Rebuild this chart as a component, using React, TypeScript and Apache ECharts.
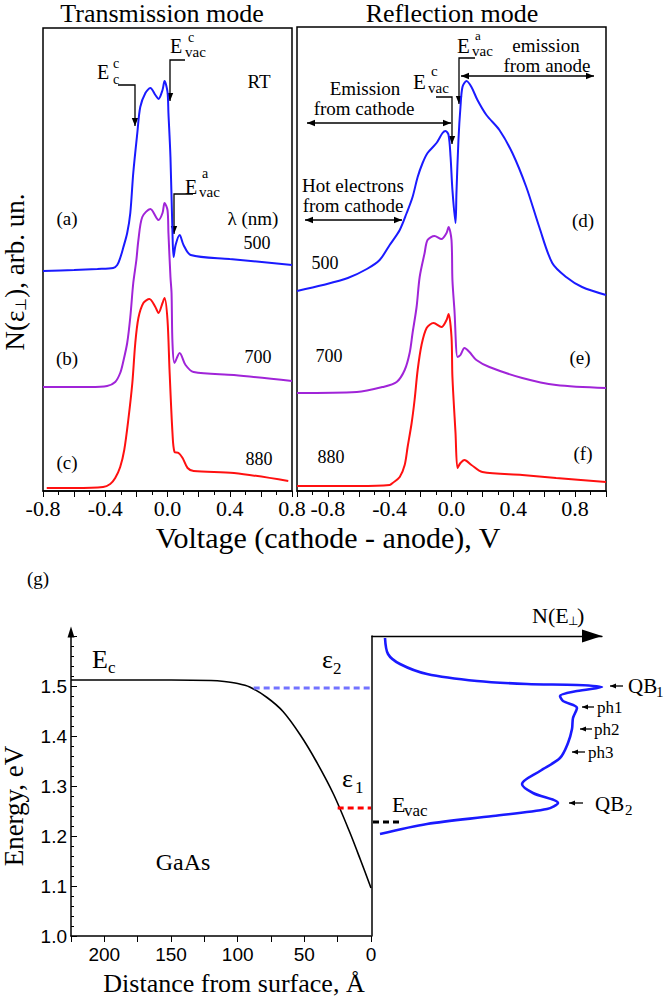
import { useEffect, useRef } from 'react';
import * as echarts from 'echarts';

const SERIF = '"Liberation Serif", "Times New Roman", serif';
const SANS = '"Liberation Sans", Arial, sans-serif';

const BLUE = '#1a1aff';
const PURPLE = '#a024d8';
const RED = '#ff1010';

// Transmission mode: [voltage, N] in arbitrary units (curves keep their vertical offsets)
const transA = [
  [-0.8, 220], [-0.6, 221], [-0.45, 222], [-0.349, 223], [-0.323, 226], [-0.304, 233], [-0.285, 243],
  [-0.259, 258], [-0.239, 278], [-0.22, 318], [-0.194, 358], [-0.175, 384], [-0.142, 398], [-0.11, 403],
  [-0.078, 396], [-0.058, 392], [-0.032, 401], [-0.019, 410], [0.0, 399], [0.006, 378], [0.019, 334],
  [0.032, 258], [0.039, 234], [0.052, 246], [0.078, 256], [0.103, 246], [0.149, 236], [0.4, 232], [0.8, 226],
];
const transB = [
  [-0.8, 104], [-0.5, 104], [-0.388, 105], [-0.336, 109], [-0.304, 118], [-0.285, 129], [-0.259, 148],
  [-0.239, 174], [-0.22, 208], [-0.2, 231], [-0.187, 251], [-0.162, 274], [-0.11, 282], [-0.058, 271],
  [-0.032, 278], [-0.019, 288], [0.0, 281], [0.006, 258], [0.019, 214], [0.026, 198], [0.032, 148],
  [0.045, 128], [0.078, 138], [0.116, 126], [0.168, 119], [0.427, 116], [0.8, 110],
];
const transC = [
  [-0.776, 3], [-0.6, 3], [-0.414, 4], [-0.368, 7], [-0.336, 13], [-0.304, 24], [-0.278, 41], [-0.252, 71],
  [-0.226, 108], [-0.207, 148], [-0.187, 173], [-0.155, 188], [-0.116, 192], [-0.078, 184], [-0.058, 178],
  [-0.032, 188], [-0.019, 193], [0.0, 171], [0.013, 121], [0.032, 58], [0.045, 39], [0.071, 38],
  [0.097, 33], [0.129, 23], [0.168, 20], [0.427, 18], [0.776, 10],
];

// Reflection mode
const reflD = [
  [-1.0, 200], [-0.832, 206], [-0.671, 213], [-0.548, 222], [-0.465, 231], [-0.4, 246], [-0.335, 261],
  [-0.29, 278], [-0.252, 294], [-0.219, 314], [-0.187, 328], [-0.155, 338], [-0.097, 348], [-0.058, 358],
  [-0.039, 360], [-0.019, 356], [-0.006, 334], [0.006, 301], [0.026, 268], [0.032, 298], [0.045, 351],
  [0.058, 384], [0.071, 404], [0.097, 410], [0.129, 404], [0.168, 391], [0.226, 376], [0.31, 361],
  [0.394, 338], [0.484, 304], [0.568, 264], [0.652, 228], [0.742, 214], [0.845, 204], [1.0, 196],
];
const reflE = [
  [-1.0, 98], [-0.613, 99], [-0.445, 104], [-0.355, 109], [-0.303, 121], [-0.271, 138], [-0.252, 158],
  [-0.226, 184], [-0.206, 214], [-0.174, 238], [-0.155, 251], [-0.11, 255], [-0.065, 252], [-0.032, 258],
  [-0.019, 264], [0.0, 251], [0.006, 211], [0.019, 181], [0.039, 134], [0.058, 136], [0.084, 143],
  [0.116, 139], [0.161, 131], [0.245, 124], [0.458, 113], [0.677, 106], [1.0, 103],
];
const reflF = [
  [-1.0, 5], [-0.6, 5], [-0.4, 6], [-0.381, 8], [-0.335, 14], [-0.303, 26], [-0.284, 44], [-0.258, 68],
  [-0.239, 91], [-0.219, 121], [-0.194, 146], [-0.161, 163], [-0.116, 168], [-0.065, 164], [-0.032, 171],
  [-0.019, 177], [0.0, 154], [0.006, 114], [0.026, 58], [0.039, 23], [0.058, 28], [0.084, 31],
  [0.129, 26], [0.2, 19], [0.458, 16], [0.677, 13], [1.0, 9],
];

// (g) band bending: [distance from surface (Å), energy (eV)]
const bandEdge = [
  [225, 1.512], [150, 1.512], [120, 1.511], [110, 1.509], [100, 1.505], [91, 1.498], [78, 1.477],
  [66, 1.449], [53, 1.402], [41, 1.349], [28, 1.283], [16, 1.208], [8, 1.153], [0, 1.096],
];
const eps2Level = [[88, 1.496], [0, 1.496]];
const eps1Level = [[25, 1.256], [0, 1.256]];
// N(E⊥): [N arb. units, energy (eV)]
const nE = [
  [13, 1.596], [16, 1.564], [28, 1.544], [55, 1.524], [105, 1.51], [155, 1.504], [205, 1.502], [230, 1.498],
  [205, 1.49], [188, 1.48], [191, 1.47], [205, 1.456], [201, 1.436], [200, 1.414], [196, 1.386],
  [188, 1.356], [168, 1.33], [150, 1.304], [161, 1.286], [186, 1.266], [175, 1.254], [121, 1.24],
  [55, 1.224], [8, 1.204],
];
const evacLevel = [[1, 1.228], [31, 1.228]];

const t = (text: string, x: number, y: number, size: number, align = 'left', family = SERIF): any => ({
  type: 'text',
  x,
  y,
  silent: true,
  style: {
    text,
    fontSize: size,
    fontFamily: family,
    fill: '#000',
    align,
    verticalAlign: 'middle',
    textAlign: align,
    textVerticalAlign: 'middle',
  },
});

const head = (tip: number[], from: number[], len = 8, hw = 3.2): any => {
  const dx = tip[0] - from[0];
  const dy = tip[1] - from[1];
  const L = Math.hypot(dx, dy);
  const ux = dx / L;
  const uy = dy / L;
  const bx = tip[0] - ux * len;
  const by = tip[1] - uy * len;
  return {
    type: 'polygon',
    silent: true,
    shape: { points: [tip, [bx - uy * hw, by + ux * hw], [bx + uy * hw, by - ux * hw]] },
    style: { fill: '#000' },
  };
};

const arrow = (pts: number[][], both = false, len = 8, hw = 3.2): any[] => {
  const out: any[] = [
    { type: 'polyline', silent: true, shape: { points: pts }, style: { stroke: '#000', lineWidth: 1.3, fill: null } },
    head(pts[pts.length - 1], pts[pts.length - 2], len, hw),
  ];
  if (both) out.push(head(pts[0], pts[1], len, hw));
  return out;
};

const line = (data: number[][], color: string, xi: number, width = 2, extra: any = {}) => ({
  type: 'line',
  data,
  xAxisIndex: xi,
  yAxisIndex: xi,
  showSymbol: false,
  smooth: 0.3,
  silent: true,
  lineStyle: { color, width },
  ...extra,
});

const App = () => {
  const ref = useRef<HTMLDivElement | null>(null);

  useEffect(() => {
    document.body.style.margin = '0';
    if (!ref.current) return;
    const chart = echarts.init(ref.current, null, { renderer: 'svg' });

    const voltLabel = (v: number) => (Math.abs(Math.round(v * 10)) % 4 === 0 ? v.toFixed(1) : '');
    const topX = (min: number, max: number, gi: number) => ({
      type: 'value',
      gridIndex: gi,
      min,
      max,
      interval: 0.2,
      axisLine: { onZero: false, lineStyle: { color: '#000', width: 1.5 } },
      axisTick: { show: true, length: 6, lineStyle: { color: '#000', width: 1 } },
      minorTick: { show: true, splitNumber: 2, length: 4, lineStyle: { color: '#000', width: 1 } },
      axisLabel: { fontFamily: SERIF, fontSize: 22, color: '#000', margin: 6, formatter: voltLabel },
      splitLine: { show: false },
    });
    const topY = (max: number, gi: number) => ({
      type: 'value',
      gridIndex: gi,
      min: 0,
      max,
      axisLine: { show: false, onZero: false },
      axisTick: { show: false },
      axisLabel: { show: false },
      splitLine: { show: false },
    });

    const option: any = {
      animation: false,
      grid: [
        { left: 43, top: 28, width: 249, height: 463, show: true, borderColor: '#000', borderWidth: 1.5 },
        { left: 297, top: 27, width: 309, height: 464, show: true, borderColor: '#000', borderWidth: 1.5 },
        { left: 71, top: 636, width: 300, height: 300 },
        { left: 372, top: 636, width: 230, height: 300 },
      ],
      xAxis: [
        topX(-0.8, 0.8, 0),
        topX(-1.0, 1.0, 1),
        {
          type: 'value',
          gridIndex: 2,
          min: 0,
          max: 225,
          interval: 50,
          inverse: true,
          axisLine: { onZero: false, lineStyle: { color: '#000', width: 1.5 } },
          axisTick: { show: true, length: 6, lineStyle: { color: '#000' } },
          minorTick: { show: true, splitNumber: 2, length: 6, lineStyle: { color: '#000' } },
          axisLabel: { fontFamily: SANS, fontSize: 19, color: '#000', margin: 9, showMaxLabel: false },
          splitLine: { show: false },
        },
        {
          type: 'value',
          gridIndex: 3,
          position: 'top',
          min: 0,
          max: 230,
          axisLine: {
            onZero: false,
            lineStyle: { color: '#000', width: 1.3 },
            symbol: ['none', 'triangle'],
            symbolSize: [13, 20],
            symbolOffset: [0, -10],
          },
          axisTick: { show: false },
          axisLabel: { show: false },
          splitLine: { show: false },
        },
      ],
      yAxis: [
        topY(463, 0),
        topY(464, 1),
        {
          type: 'value',
          gridIndex: 2,
          min: 1.0,
          max: 1.6,
          interval: 0.1,
          axisLine: {
            onZero: false,
            lineStyle: { color: '#000', width: 1.5 },
            symbol: ['none', 'triangle'],
            symbolSize: [7, 11],
            symbolOffset: [0, 4],
          },
          axisTick: { show: true, inside: true, length: 6, lineStyle: { color: '#000' } },
          minorTick: { show: true, splitNumber: 5, length: 3, lineStyle: { color: '#000' } },
          axisLabel: {
            fontFamily: SANS,
            fontSize: 19,
            color: '#000',
            margin: 4,
            showMaxLabel: false,
            formatter: (v: number) => v.toFixed(1),
          },
          splitLine: { show: false },
        },
        {
          type: 'value',
          gridIndex: 3,
          min: 1.0,
          max: 1.6,
          axisLine: { onZero: false, lineStyle: { color: '#000', width: 1.5 } },
          axisTick: { show: false },
          axisLabel: { show: false },
          splitLine: { show: false },
        },
      ],
      series: [
        line(transA, BLUE, 0),
        line(transB, PURPLE, 0),
        line(transC, RED, 0),
        line(reflD, BLUE, 1),
        line(reflE, PURPLE, 1),
        line(reflF, RED, 1),
        line(bandEdge, '#000', 2, 1.6),
        line(eps2Level, '#7373ff', 2, 3, { smooth: false, lineStyle: { color: '#7373ff', width: 3, type: [6, 4] } }),
        line(eps1Level, '#ff0000', 2, 3, { smooth: false, lineStyle: { color: '#ff0000', width: 3, type: [6, 4] } }),
        line(nE, BLUE, 3, 2.6),
        line(evacLevel, '#000', 3, 3, { smooth: false, lineStyle: { color: '#000', width: 3, type: [6, 4] } }),
      ],
      graphic: [
        // titles and axis names
        t('Transmission mode', 162, 13.5, 26, 'center'),
        t('Reflection mode', 452, 13.5, 26, 'center'),
        t('Voltage (cathode - anode), V', 328, 537, 30, 'center'),
        {
          type: 'text',
          x: 15,
          y: 272,
          rotation: Math.PI / 2,
          silent: true,
          style: {
            text: '{a|N(ε}{b|⊥}{a|), arb. un.}',
            rich: {
              a: { fontSize: 27, fontFamily: SERIF, fill: '#000' },
              b: { fontSize: 15, fontFamily: SERIF, fill: '#000', verticalAlign: 'bottom' },
            },
            align: 'center',
            verticalAlign: 'middle',
            textAlign: 'center',
            textVerticalAlign: 'middle',
          },
        },
        // transmission panel labels
        t('E', 97, 72, 20), t('c', 113, 63, 14), t('c', 113, 79, 14),
        ...arrow([[118, 85], [135, 85], [135, 126]]),
        t('E', 170, 46, 20), t('c', 188, 37, 14), t('vac', 185, 52, 15),
        ...arrow([[185, 60], [170, 60], [170, 101]]),
        t('E', 185, 187, 20), t('a', 202, 173, 14), t('vac', 199, 192, 15),
        ...arrow([[193, 194], [174, 194], [174, 234]]),
        t('RT', 259, 81, 19, 'center'),
        t('(a)', 67, 218, 19, 'center'),
        t('λ (nm)', 253, 218, 19, 'center'),
        t('500', 257, 243, 18, 'center'),
        t('(b)', 67, 358, 19, 'center'),
        t('700', 258, 357, 18, 'center'),
        t('(c)', 67, 462, 19, 'center'),
        t('880', 259, 459, 18, 'center'),
        // reflection panel labels
        t('E', 457, 46, 21), t('a', 475, 35.5, 13), t('vac', 472, 51, 15),
        ...arrow([[475, 58], [459, 58], [459, 104]]),
        t('emission', 546, 45, 19, 'center'),
        t('from anode', 547, 65, 19, 'center'),
        ...arrow([[461, 76], [594, 76]], true),
        t('E', 413, 82, 21), t('c', 431, 71, 15), t('vac', 428, 88, 15),
        ...arrow([[436, 97], [452, 97], [452, 144]]),
        t('Emission', 365, 88, 19, 'center'),
        t('from cathode', 364, 108, 19, 'center'),
        ...arrow([[307, 123], [451, 123]], true),
        t('Hot electrons', 353, 185, 19, 'center'),
        t('from cathode', 353, 205, 19, 'center'),
        ...arrow([[305, 220], [402, 220]], true),
        t('(d)', 583, 220, 19, 'center'),
        t('500', 325, 263, 18, 'center'),
        t('(e)', 580, 357, 19, 'center'),
        t('700', 329, 356, 18, 'center'),
        t('(f)', 583, 453, 19, 'center'),
        t('880', 331, 457, 18, 'center'),
        // (g)
        t('(g)', 38, 578, 19, 'center'),
        {
          type: 'text',
          x: 14,
          y: 806,
          rotation: Math.PI / 2,
          silent: true,
          style: {
            text: 'Energy, eV',
            fontSize: 27,
            fontFamily: SERIF,
            fill: '#000',
            align: 'center',
            verticalAlign: 'middle',
            textAlign: 'center',
            textVerticalAlign: 'middle',
          },
        },
        t('Distance from surface, Å', 234, 983, 26, 'center'),
        t('E', 92, 659, 26), t('c', 108, 667, 17),
        t('ε', 322, 659, 26), t('2', 333, 668, 17),
        t('ε', 342, 778, 26), t('1', 355, 787, 17),
        t('GaAs', 183, 862, 24, 'center'),
        t('E', 392, 804, 22), t('vac', 404, 810, 17),
        t('N(E', 532, 615, 22), t('⊥', 568, 621, 12), t(')', 577, 615, 22),
        ...arrow([[623, 686], [610, 686]], false, 6, 2.6), t('QB', 628, 686, 21), t('1', 656, 692, 15),
        ...arrow([[594, 707], [582, 707]], false, 6, 2.6), t('ph1', 597, 707, 17),
        ...arrow([[592, 729], [580, 729]], false, 6, 2.6), t('ph2', 594, 729, 17),
        ...arrow([[585, 752], [572, 752]], false, 6, 2.6), t('ph3', 588, 752, 17),
        ...arrow([[583, 803], [569, 803]], false, 6, 2.6), t('QB', 595, 804, 21), t('2', 625, 810, 15),
      ],
    };

    chart.setOption(option);
    return () => {
      chart.dispose();
    };
  }, []);

  return <div ref={ref} style={{ width: '666px', height: '998px' }} />;
};

export default App;
